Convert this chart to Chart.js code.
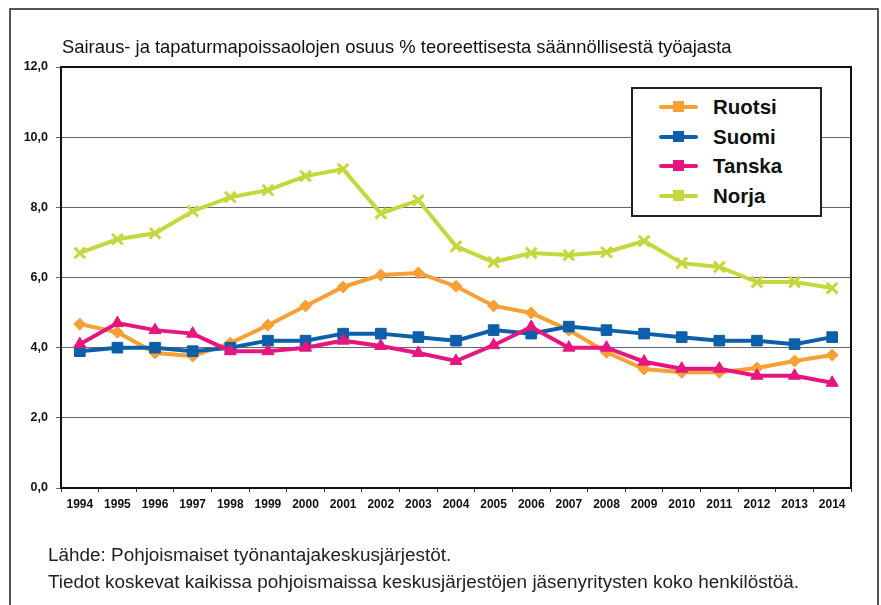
<!DOCTYPE html>
<html lang="fi">
<head>
  <meta charset="UTF-8" />
  <title>Sairaus- ja tapaturmapoissaolot</title>
  <script src="https://cdn.jsdelivr.net/npm/chart.js"></script>
  <style>
    body { margin: 0; background: #fff; font-family: "Liberation Sans", Arial, sans-serif; }
    #wrap { position: relative; width: 881px; height: 605px; overflow: hidden; }
    #frame { position: absolute; left: 9px; top: 8px; width: 866px; height: 620px;
             border: 2px solid #555; border-bottom: none; }
    #chart { position: absolute; left: 0; top: 0; }
    .title { position: absolute; left: 62px; top: 36px; font-size: 18.4px; line-height: 22px; color: #111; white-space: nowrap; }
    .foot { position: absolute; left: 48px; font-size: 18.9px; line-height: 22px; color: #222; white-space: nowrap; }
    #legend { position: absolute; left: 631px; top: 87px; width: 187px; height: 126px;
              border: 2px solid #222; background: #fff; }
    .item { position: absolute; left: 26px; height: 24px; }
    .item .line { position: absolute; left: 0; top: 10px; width: 39px; height: 4px; border-radius: 2px; }
    .item .sq { position: absolute; left: 14px; top: 6px; width: 11px; height: 11px; }
    .item .lab { position: absolute; left: 54px; top: 0; font-size: 20.5px; font-weight: bold; color: #111; line-height: 24px; }
  </style>
</head>
<body>
  <div id="wrap">
    <div id="frame"></div>
    <canvas id="chart" width="881" height="605"></canvas>
    <div class="title">Sairaus- ja tapaturmapoissaolojen osuus % teoreettisesta säännöllisestä työajasta</div>
    <div id="legend"></div>
    <div class="foot" style="top:544px">Lähde: Pohjoismaiset työnantajakeskusjärjestöt.</div>
    <div class="foot" style="top:571px">Tiedot koskevat kaikissa pohjoismaissa keskusjärjestöjen jäsenyritysten koko henkilöstöä.</div>
  </div>

  <script>
    // Data
    const years = ['1994','1995','1996','1997','1998','1999','2000','2001','2002','2003','2004',
                   '2005','2006','2007','2008','2009','2010','2011','2012','2013','2014'];
    const ruotsi = [4.67, 4.44, 3.85, 3.76, 4.13, 4.64, 5.19, 5.73, 6.07, 6.13, 5.75,
                    5.19, 4.99, 4.5, 3.87, 3.39, 3.3, 3.3, 3.42, 3.62, 3.79];
    const suomi  = [3.9, 4.0, 4.0, 3.9, 4.0, 4.2, 4.2, 4.4, 4.4, 4.3, 4.2,
                    4.5, 4.4, 4.6, 4.5, 4.4, 4.3, 4.2, 4.2, 4.1, 4.3];
    const tanska = [4.1, 4.7, 4.5, 4.4, 3.9, 3.9, 4.0, 4.2, 4.05, 3.85, 3.62,
                    4.07, 4.59, 4.0, 4.0, 3.6, 3.4, 3.4, 3.2, 3.2, 3.0];
    const norja  = [6.7, 7.09, 7.26, 7.89, 8.29, 8.49, 8.89, 9.09, 7.83, 8.2, 6.89,
                    6.44, 6.7, 6.64, 6.72, 7.04, 6.41, 6.3, 5.87, 5.87, 5.7];

    const seriesNames  = ['Ruotsi', 'Suomi', 'Tanska', 'Norja'];
    const seriesData   = [ruotsi, suomi, tanska, norja];
    const seriesColors = ['#F7A035', '#0D5FA9', '#E6157F', '#C4D73C'];
    const seriesPoints = ['rectRot', 'rect', 'triangle', 'crossRot'];
    const seriesRadius = [6, 7.5, 7, 7.5];
    const seriesOrder  = [2, 1, 0, 3];

    const datasets = seriesNames.map((name, i) => ({
      label: name,
      data: seriesData[i],
      borderColor: seriesColors[i],
      backgroundColor: seriesColors[i],
      borderWidth: 4,
      pointStyle: seriesPoints[i],
      pointRadius: seriesRadius[i],
      pointBorderWidth: seriesPoints[i] === 'crossRot' ? 3 : 1,
      order: seriesOrder[i],
      tension: 0
    }));

    // Legend built from the same arrays
    const legend = document.getElementById('legend');
    seriesNames.forEach((name, i) => {
      const it = document.createElement('div');
      it.className = 'item';
      it.style.top = (6 + i * 29.5) + 'px';
      it.innerHTML = `<div class="line" style="background:${seriesColors[i]}"></div>
                      <div class="sq" style="background:${seriesColors[i]}"></div>
                      <div class="lab">${name}</div>`;
      legend.appendChild(it);
    });

    // Box around the plot area
    const plotBox = {
      id: 'plotBox',
      afterDatasetsDraw(chart) {
        const a = chart.chartArea, c = chart.ctx;
        c.save();
        c.strokeStyle = '#111';
        c.lineWidth = 2;
        c.strokeRect(a.left, a.top, a.right - a.left, a.bottom - a.top);
        c.restore();
      }
    };

    new Chart(document.getElementById('chart'), {
      type: 'line',
      data: { labels: years, datasets: datasets },
      plugins: [plotBox],
      options: {
        responsive: false,
        animation: false,
        layout: { padding: { top: 67, right: 30, bottom: 87, left: 0 } },
        plugins: { legend: { display: false }, tooltip: { enabled: false } },
        scales: {
          x: {
            offset: true,
            afterFit(s) { s.height = 30; },
            grid: { display: true, offset: true, drawOnChartArea: false, drawTicks: true,
                    tickLength: 4, color: '#333' },
            border: { display: false },
            ticks: { color: '#111', padding: 5, maxRotation: 0, autoSkip: false,
                     font: { family: 'Liberation Sans', size: 12, weight: 'bold' } }
          },
          y: {
            min: 0, max: 12,
            afterFit(s) { s.width = 61; },
            grid: { color: '#666', lineWidth: 1, tickLength: 5, drawTicks: true },
            border: { display: false },
            ticks: { stepSize: 2, color: '#111', padding: 8,
                     font: { family: 'Liberation Sans', size: 12.5, weight: 'bold' },
                     callback: v => v.toFixed(1).replace('.', ',') }
          }
        }
      }
    });
  </script>
</body>
</html>
